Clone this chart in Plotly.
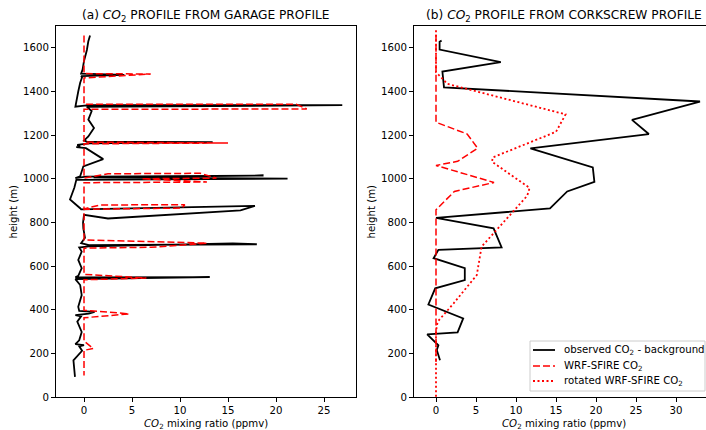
import plotly.graph_objects as go

# ---- (a) garage profile: observed CO2 minus background, along the flight track
garage_obs_ppmv = [0.63, 0.45, 0.3, 0.0, -0.15, -0.3, 4.2, -0.3, -0.2, -0.4, -0.6, -0.8, -0.9,
                   0.5, 26.9, 0.3, 0.8, 0.45, 1.04, 0.45, 0.0,
                   0.3, 13.4, 0.5, -0.7, -0.4, -0.8, 0.2, 2.0, -0.07, -0.4, -0.9,
                   0.2, 18.7, 1.0, 21.2, -0.2, -0.8, -1.0, -1.46, -0.4,
                   -0.3, 17.8, 16.3, 2.5, 0.0, -0.1, -0.07, 0.1, -0.3,
                   0.5, 18.0, 15.5, 0.5, -0.5, -0.24, -0.6, -0.24, -0.6, -0.9,
                   13.1, -0.3, -0.9, -0.4, -0.24, -0.6, -0.5,
                   1.1, 0.5, -0.9, -0.3, -0.7, -0.24, -0.5, -0.9, 0.0, -0.5, -0.2, -1.1, -0.94]
garage_obs_height = [1657, 1630, 1590, 1540, 1500, 1482, 1476, 1470, 1465, 1440, 1400, 1360, 1330,
                     1337, 1337, 1330, 1310, 1271, 1233, 1194, 1175,
                     1170, 1168, 1162, 1155, 1148, 1145, 1140, 1090, 1057, 1011, 1003,
                     1010, 1015, 1006, 1001, 998, 995, 960, 905, 865,
                     860, 876, 855, 818, 835, 800, 773, 730, 705,
                     696, 700, 704, 690, 685, 666, 628, 590, 555, 548,
                     549, 543, 540, 513, 467, 413, 395,
                     390, 382, 375, 370, 345, 298, 260, 242, 238, 232, 212, 168, 92]

# WRF-SFIRE CO2 sampled along the same track
garage_wrf_ppmv = [0, 0, 6.95, 2.0, 0,
                   0, 22.1, 23.2, 0,
                   0, 15.0, 0,
                   0, 2.5, 12.1, 13.8, 6.0, 12.8, 0,
                   0, 1.7, 10.5, 10.2, 0,
                   0, 12.8, 7.0, 0,
                   0, 6.5, 0,
                   0, 4.7, 0,
                   0, 0.97, 0, 0]
garage_wrf_height = [1657, 1482, 1480, 1468, 1462,
                     1342, 1342, 1320, 1318,
                     1168, 1164, 1160,
                     1003, 1023, 1025, 1003, 1000, 985, 982,
                     862, 880, 881, 866, 860,
                     720, 705, 686, 682,
                     562, 545, 537,
                     398, 381, 363,
                     256, 222, 214, 98]

# ---- (b) corkscrew profile
cork_obs_ppmv = [0.7, 0.45, 0.45, 8.1, 0.8, 1.0, 33.0, 24.5, 26.6, 11.8, 19.6, 19.8, 16.4, 14.25,
                 0.0, 7.2, 8.2, 0.3, -0.3, 3.6, 3.6, -0.1, -0.95, 3.4, 2.7, -1.1, 0.3, 0.1, 0.5]
cork_obs_height = [1633, 1628, 1592, 1534, 1491, 1419, 1354, 1270, 1205, 1139, 1052, 986, 942, 864,
                   821, 773, 686, 674, 636, 590, 536, 498, 424, 360, 296, 287, 237, 215, 168]

cork_wrf_ppmv = [0, 0, 3.9, 5.2, 2.7, 0, 7.25, 2.3, 0, 0]
cork_wrf_height = [1660, 1259, 1205, 1140, 1080, 1061, 983, 942, 858, 160]

cork_rot_ppmv = [0, 0, 0.9, 1.4, 16.2, 15.0, 7.1, 7.0, 11.7, 11.4, 9.3, 5.7, 5.1, 2.2, 0.2, 0, 0]
cork_rot_height = [1680, 1488, 1455, 1435, 1295, 1215, 1098, 1078, 958, 922, 836, 689, 559, 429, 345, 300, 0]

x_ticks_a = [0, 5, 10, 15, 20, 25]
x_ticks_b = [0, 5, 10, 15, 20, 25, 30]
y_ticks = [0, 200, 400, 600, 800, 1000, 1200, 1400, 1600]

series_labels = ["observed CO<sub>2</sub> - background", "WRF-SFIRE CO<sub>2</sub>",
                 "rotated WRF-SFIRE CO<sub>2</sub>"]

FONT = "DejaVu Sans"
W, H = 706, 430
TICK_SIZE = 10.2
TITLE_SIZE = 12.2

OBS_LINE = dict(color="black", width=1.8)
WRF_LINE = dict(color="red", width=1.5, dash="7px,3px")
ROT_LINE = dict(color="red", width=1.8, dash="2px,2.5px")

fig = go.Figure()

fig.add_trace(go.Scatter(x=garage_obs_ppmv, y=garage_obs_height, mode="lines",
                         line=OBS_LINE, showlegend=False, xaxis="x", yaxis="y"))
fig.add_trace(go.Scatter(x=garage_wrf_ppmv, y=garage_wrf_height, mode="lines",
                         line=WRF_LINE, showlegend=False, xaxis="x", yaxis="y"))

fig.add_trace(go.Scatter(x=cork_obs_ppmv, y=cork_obs_height, mode="lines", line=OBS_LINE,
                         name=series_labels[0], showlegend=False, xaxis="x2", yaxis="y2"))
fig.add_trace(go.Scatter(x=cork_wrf_ppmv, y=cork_wrf_height, mode="lines", line=WRF_LINE,
                         name=series_labels[1], showlegend=False, xaxis="x2", yaxis="y2"))
fig.add_trace(go.Scatter(x=cork_rot_ppmv, y=cork_rot_height, mode="lines", line=ROT_LINE,
                         name=series_labels[2], showlegend=False, xaxis="x2", yaxis="y2"))

# plot-area edges in pixels
a_left, a_right = 56, 356
b_left, b_right = 414, 706
top_px, bot_px = 26, 397


def px(x):
    return x / W


def py(y):
    return (H - y) / H


axis_common = dict(showgrid=False, zeroline=False, showline=True, linecolor="black",
                   linewidth=1, ticks="outside", ticklen=4, tickwidth=1, tickcolor="black",
                   tickfont=dict(family=FONT, size=TICK_SIZE, color="black"), automargin=False)

fig.update_layout(
    width=W, height=H, autosize=False,
    margin=dict(l=0, r=0, t=0, b=0),
    paper_bgcolor="white", plot_bgcolor="white",
    font=dict(family=FONT, size=TICK_SIZE, color="black"),
    showlegend=False,
    xaxis=dict(domain=[px(a_left), px(a_right)], range=[-2.917, 28.33],
               tickvals=x_ticks_a, mirror=True, anchor="y", **axis_common),
    yaxis=dict(domain=[py(bot_px), py(top_px)], range=[0, 1700],
               tickvals=y_ticks, mirror=True, anchor="x", **axis_common),
    xaxis2=dict(domain=[px(b_left), px(b_right)], range=[-2.75, 33.75],
                tickvals=x_ticks_b, mirror=True, anchor="y2", **axis_common),
    yaxis2=dict(domain=[py(bot_px), py(top_px)], range=[0, 1700],
                tickvals=y_ticks, mirror=False, anchor="x2", **axis_common),
)

ann = []
shapes = []
# panel titles
ann.append(dict(text="(a) <i>CO</i><sub>2</sub> PROFILE FROM GARAGE PROFILE",
                x=px((a_left + a_right) / 2), y=py(16), xref="paper", yref="paper",
                showarrow=False, xanchor="center", yanchor="middle",
                font=dict(family=FONT, size=TITLE_SIZE, color="black")))
ann.append(dict(text="(b) <i>CO</i><sub>2</sub> PROFILE FROM CORKSCREW PROFILE",
                x=px(563.5), y=py(16), xref="paper", yref="paper",
                showarrow=False, xanchor="center", yanchor="middle",
                font=dict(family=FONT, size=TITLE_SIZE, color="black")))
# axis titles
for cx in [(a_left + a_right) / 2, 563.5]:
    ann.append(dict(text="<i>CO</i><sub>2</sub> mixing ratio (ppmv)",
                    x=px(cx), y=py(424), xref="paper", yref="paper",
                    showarrow=False, xanchor="center", yanchor="middle",
                    font=dict(family=FONT, size=TICK_SIZE, color="black")))
for lx in [13, 371]:
    ann.append(dict(text="height (m)", textangle=-90,
                    x=px(lx), y=py((top_px + bot_px) / 2), xref="paper", yref="paper",
                    showarrow=False, xanchor="center", yanchor="middle",
                    font=dict(family=FONT, size=TICK_SIZE, color="black")))

# legend for panel (b)
leg_l, leg_r, leg_t, leg_b = 530, 705, 341, 391
shapes.append(dict(type="rect", xref="paper", yref="paper",
                   x0=px(leg_l), x1=px(leg_r), y0=py(leg_b), y1=py(leg_t),
                   line=dict(color="#cccccc", width=1), fillcolor="rgba(255,255,255,0.85)",
                   layer="above"))
for row_y, style, label in zip([350, 366, 381], [OBS_LINE, WRF_LINE, ROT_LINE], series_labels):
    shapes.append(dict(type="line", xref="paper", yref="paper",
                       x0=px(533), x1=px(555), y0=py(row_y), y1=py(row_y),
                       line=style, layer="above"))
    ann.append(dict(text=label, x=px(562), y=py(row_y), xref="paper", yref="paper",
                    showarrow=False, xanchor="left", yanchor="middle",
                    font=dict(family=FONT, size=TICK_SIZE, color="black")))

fig.update_layout(annotations=ann, shapes=shapes)

fig.write_html("out.html")
